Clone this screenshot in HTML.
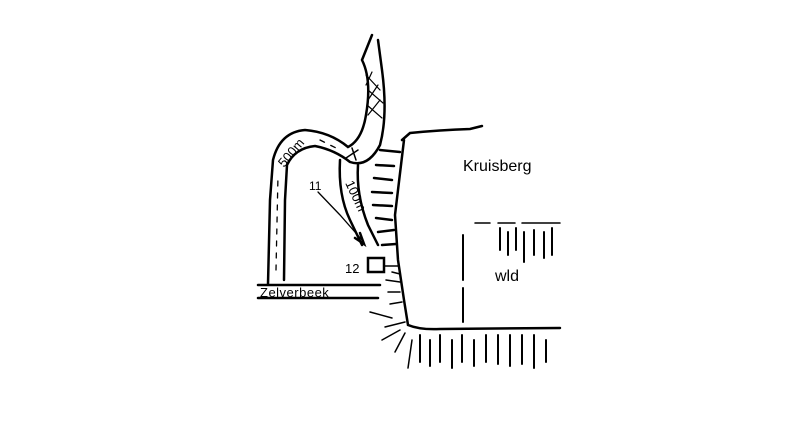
<!DOCTYPE html>
<html><head><meta charset="utf-8"><style>
html,body{margin:0;padding:0;background:#fff;width:800px;height:426px;overflow:hidden}
svg{display:block}
text{font-family:"Liberation Sans",sans-serif;fill:#000}
</style></head><body>
<svg width="800" height="426" viewBox="0 0 800 426" xmlns="http://www.w3.org/2000/svg">
<g fill="none" stroke="#000" stroke-width="2.5" stroke-linecap="round">
<path d="M268,284 L270,200 L273,160 Q280,132 305,130 Q330,132 348,147 Q362,140 366,115 Q372,80 362,60 L372,35"/>
<path d="M284,280 L285,200 L287,165 Q295,148 315,146 Q335,150 350,162 Q368,168 380,145 Q388,115 382,70 L378,40"/>
<path d="M276,270 L278,175" stroke-width="1.3" stroke-dasharray="5,7"/>
<path d="M320,140 L340,150" stroke-width="1.3" stroke-dasharray="5,7"/>
<path d="M366,75 L380,90 M368,90 L383,103 M367,105 L382,118 M372,72 L366,85 M378,85 L368,100 M380,100 L368,115" stroke-width="1.2"/>
<path d="M340,160 Q338,195 350,220 L362,245"/>
<path d="M358,165 Q356,195 368,225 L378,245"/>
<path d="M352,148 L356,160 M346,158 L358,150" stroke-width="1.5"/>
<path d="M318,192 L340,215 L362,240" stroke-width="1.3"/>
<path d="M355,238 L364,244 L360,233"/>
<path d="M402,140 L410,133 Q440,130 470,129 L482,126"/>
<path d="M404,140 L398,190 L395,215 L398,260 L404,300 L408,325 Q420,330 440,329 L560,328"/>
<path d="M380,150 L400,152 M376,165 L394,166 M374,178 L392,180 M372,192 L392,193 M373,205 L392,206 M376,218 L392,220 M378,232 L394,230 M382,245 L396,244" stroke-width="2.5"/>
<rect x="368" y="258" width="16" height="14" stroke-width="2.5"/>
<path d="M384,266 L398,266 M392,272 L400,274 M386,280 L400,282 M388,292 L400,292 M390,304 L402,302" stroke-width="1.5"/>
<path d="M258,285 L380,285 M258,298 L378,298" stroke-width="2.5"/>
<path d="M370,312 L392,318 M385,327 L405,322 M382,340 L400,330 M395,352 L405,333 M408,368 L412,340" stroke-width="1.5"/>
<path d="M475,223 L490,223 M498,223 L515,223 M522,223 L560,223" stroke-width="1.5"/>
<path d="M500,228 L500,250 M508,232 L508,255 M516,228 L516,250 M524,232 L524,262 M534,230 L534,255 M544,232 L544,258 M552,228 L552,255" stroke-width="2"/>
<path d="M463,235 L463,280 M463,288 L463,322" stroke-width="2"/>
<path d="M420,335 L420,362 M430,340 L430,366 M440,335 L440,362 M452,340 L452,368 M462,335 L462,362 M474,340 L474,366 M486,335 L486,362 M498,335 L498,364 M510,335 L510,366 M522,335 L522,364 M534,335 L534,368 M546,340 L546,362" stroke-width="2"/>
</g>
<text x="463" y="171" font-size="16">Kruisberg</text>
<text x="495" y="281" font-size="16">wld</text>
<text x="309" y="190" font-size="12">11</text>
<text x="345" y="273" font-size="13">12</text>
<text x="260" y="297" font-size="13" letter-spacing="0.5">Zelverbeek</text>
<text transform="translate(284,168) rotate(-50)" font-size="13">500m</text>
<text transform="translate(345,183) rotate(65)" font-size="13">100m</text>
</svg>
</body></html>
